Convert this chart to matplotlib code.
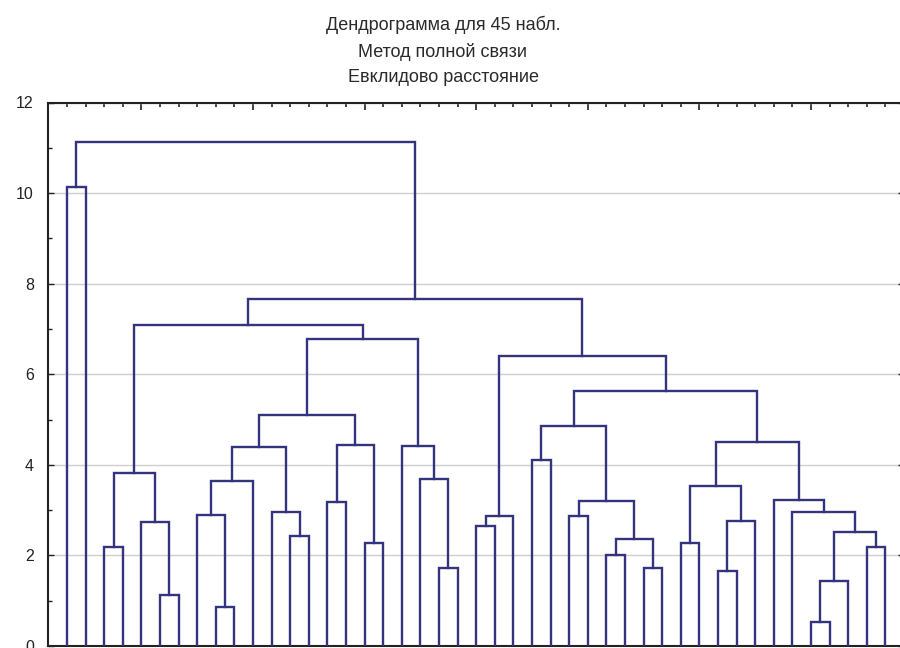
import matplotlib
matplotlib.use("Agg")
import matplotlib.pyplot as plt
import numpy as np

# ---- data ----
title_lines = ["Дендрограмма для 45 набл.", "Метод полной связи", "Евклидово расстояние"]
n_leaves = 45
# merges: leaves are 0..44 (drawn left to right), merge k creates node 45+k
merge_left = [2, 5, 4, 45, 8, 7, 50, 12, 11, 51, 14, 16, 55, 54, 20, 19, 18, 58, 48, 0,
              22, 65, 25, 27, 29, 31, 69, 68, 67, 33, 35, 75, 74, 40, 78, 43, 79, 39, 38, 77,
              73, 66, 63, 64]
merge_right = [3, 6, 46, 47, 9, 49, 10, 13, 52, 53, 15, 17, 56, 57, 21, 59, 60, 61, 62, 1,
               23, 24, 26, 28, 30, 32, 70, 71, 72, 34, 36, 37, 76, 41, 42, 44, 80, 81, 82, 83,
               84, 85, 86, 87]
merge_height = [2.19, 1.13, 2.73, 3.83, 0.87, 2.90, 3.65, 2.43, 2.95, 4.39, 3.18, 2.28, 4.44,
                5.09, 1.73, 3.68, 4.41, 6.78, 7.09, 10.13, 2.66, 2.86, 4.10, 2.88, 2.01, 1.72,
                2.36, 3.21, 4.85, 2.28, 1.66, 2.75, 3.54, 0.52, 1.44, 2.19, 2.51, 2.95, 3.23,
                4.50, 5.62, 6.41, 7.66, 11.12]
y_ticks = [0, 2, 4, 6, 8, 10, 12]

line_color = "#34347e"

fig = plt.figure(figsize=(9, 6.48), dpi=100)
ax = fig.add_axes([48.4 / 900, 2 / 648, (904 - 48.4) / 900, (646 - 102.5) / 648])

# node positions
xpos = {i: i + 1 for i in range(n_leaves)}
ypos = {i: 0.0 for i in range(n_leaves)}
for k, (a, b, h) in enumerate(zip(merge_left, merge_right, merge_height)):
    node = n_leaves + k
    xa, xb = xpos[a], xpos[b]
    ya, yb = ypos[a], ypos[b]
    ax.plot([xa, xa, xb, xb], [ya, h, h, yb], color=line_color, lw=1.7,
            solid_joinstyle="miter", zorder=3)
    xpos[node] = (xa + xb) / 2
    ypos[node] = h

ax.set_xlim(0, n_leaves + 1)
ax.set_ylim(0, 12)
ax.set_yticks(y_ticks)
ax.set_yticks(np.arange(1, 12, 2), minor=True)
ax.yaxis.grid(True, which="major", color="#cfcfcf", lw=1.0, zorder=0)
ax.set_axisbelow(True)

ax.set_xticks([5, 11, 17, 23, 29, 35, 41])
ax.set_xticks(np.arange(1, n_leaves + 1), minor=True)
ax.tick_params(axis="x", which="both", direction="in", top=True, bottom=False,
               labelbottom=False, labeltop=False, color="#222222")
ax.tick_params(axis="x", which="major", length=5, width=1.2)
ax.tick_params(axis="x", which="minor", length=3, width=1.2)
ax.tick_params(axis="y", which="both", direction="in", left=True, right=True,
               color="#222222", width=1.0)
ax.tick_params(axis="y", which="major", length=4, pad=10.5, labelsize=11.5,
               labelcolor="#222222")
ax.tick_params(axis="y", which="minor", length=3)
for lab in ax.get_yticklabels():
    lab.set_fontfamily("Liberation Sans")

for s in ax.spines.values():
    s.set_color("#222222")
    s.set_linewidth(1.5)

for i, (t, yy) in enumerate(zip(title_lines, [25, 52, 78])):
    fig.text(443 / 900, 1 - yy / 648, t, ha="center", va="center",
             fontsize=13, family="Liberation Sans", color="#2a2a2a")

fig.savefig("out.png", dpi=100)
